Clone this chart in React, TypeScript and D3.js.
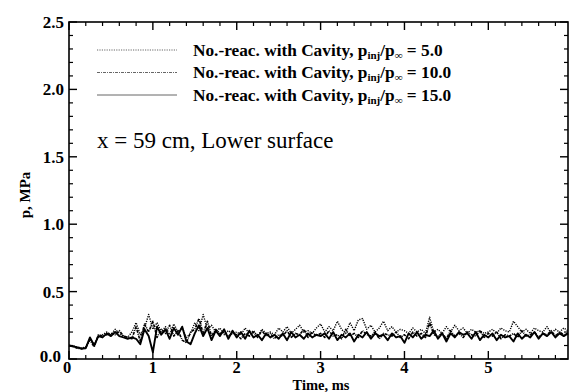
import { scaleLinear, line, range } from "d3";

const STEP = 0.05;

const p5: number[] = [
  0.10, 0.095, 0.09, 0.08, 0.09, 0.15, 0.11, 0.16, 0.18, 0.20, 0.18, 0.22, 0.19, 0.17, 0.16, 0.20, 0.27, 0.18, 0.23, 0.33,
  0.22, 0.27, 0.20, 0.24, 0.18, 0.26, 0.20, 0.23, 0.16, 0.19, 0.27, 0.21, 0.33, 0.22, 0.25, 0.20, 0.23, 0.18, 0.21, 0.19,
  0.20, 0.18, 0.23, 0.19, 0.21, 0.17, 0.22, 0.19, 0.20, 0.18, 0.23, 0.20, 0.24, 0.19, 0.22, 0.25, 0.20, 0.21, 0.19, 0.23,
  0.26, 0.20, 0.24, 0.21, 0.28, 0.22, 0.19, 0.27, 0.21, 0.29, 0.30, 0.22, 0.25, 0.20, 0.23, 0.28, 0.21, 0.24, 0.20, 0.22,
  0.21, 0.19, 0.23, 0.20, 0.22, 0.19, 0.31, 0.20, 0.22, 0.19, 0.24, 0.20, 0.25, 0.21, 0.23, 0.19, 0.22, 0.20, 0.21, 0.19,
  0.20, 0.22, 0.19, 0.23, 0.21, 0.20, 0.28, 0.24, 0.20, 0.22, 0.19, 0.23, 0.21, 0.20, 0.24, 0.19, 0.22, 0.20, 0.23, 0.21,
];

const p10: number[] = [
  0.10, 0.09, 0.08, 0.075, 0.085, 0.14, 0.09, 0.18, 0.17, 0.18, 0.19, 0.18, 0.21, 0.17, 0.16, 0.15, 0.24, 0.13, 0.26, 0.20,
  0.28, 0.16, 0.22, 0.19, 0.25, 0.17, 0.21, 0.14, 0.12, 0.20, 0.22, 0.30, 0.19, 0.28, 0.17, 0.22, 0.19, 0.20, 0.17, 0.19,
  0.18, 0.15, 0.19, 0.17, 0.20, 0.16, 0.21, 0.17, 0.19, 0.15, 0.18, 0.17, 0.21, 0.16, 0.19, 0.18, 0.22, 0.16, 0.20, 0.17,
  0.19, 0.16, 0.21, 0.17, 0.18, 0.15, 0.22, 0.17, 0.19, 0.16, 0.21, 0.18, 0.17, 0.20, 0.15, 0.19, 0.18, 0.17, 0.20, 0.16,
  0.18, 0.15, 0.20, 0.17, 0.19, 0.16, 0.27, 0.18, 0.17, 0.19, 0.15, 0.21, 0.17, 0.19, 0.16, 0.20, 0.18, 0.17, 0.21, 0.16,
  0.19, 0.17, 0.20, 0.15, 0.18, 0.17, 0.19, 0.16, 0.21, 0.17, 0.18, 0.20, 0.16, 0.19, 0.18, 0.21, 0.17, 0.20, 0.18, 0.19,
];

const p15: number[] = [
  0.10, 0.095, 0.085, 0.078, 0.08, 0.16, 0.10, 0.17, 0.16, 0.19, 0.17, 0.20, 0.17, 0.16, 0.15, 0.16, 0.15, 0.11, 0.22, 0.17,
  0.05, 0.24, 0.18, 0.22, 0.15, 0.23, 0.18, 0.24, 0.13, 0.11, 0.19, 0.25, 0.17, 0.23, 0.14, 0.21, 0.17, 0.22, 0.15, 0.21,
  0.16, 0.20, 0.15, 0.21, 0.16, 0.18, 0.14, 0.19, 0.16, 0.18, 0.15, 0.19, 0.14, 0.20, 0.16, 0.18, 0.15, 0.19, 0.16, 0.18,
  0.17, 0.19, 0.15, 0.20, 0.14, 0.18, 0.16, 0.19, 0.13, 0.18, 0.16, 0.20, 0.15, 0.19, 0.17, 0.18, 0.14, 0.19, 0.16, 0.17,
  0.12, 0.19, 0.16, 0.20, 0.15, 0.18, 0.17, 0.21, 0.15, 0.19, 0.13, 0.19, 0.16, 0.20, 0.18, 0.19, 0.15, 0.20, 0.14, 0.18,
  0.16, 0.19, 0.14, 0.18, 0.16, 0.17, 0.13, 0.19, 0.15, 0.18, 0.16, 0.20, 0.15, 0.19, 0.17, 0.20, 0.16, 0.19, 0.17, 0.19,
];

const ratios = ["5.0", "10.0", "15.0"];
const xTicks = [0, 1, 2, 3, 4, 5];
const yTicks = [0, 0.5, 1, 1.5, 2, 2.5];

const series = [
  { ratio: ratios[0], values: p5, dash: "1.2,1.2", width: 1.4 },
  { ratio: ratios[1], values: p10, dash: "3,1,1,1", width: 1.6 },
  { ratio: ratios[2], values: p15, dash: undefined, width: 1.9 },
];

const serif = "'Liberation Serif', 'Times New Roman', serif";

export default function App() {
  const width = 569;
  const height = 392;
  const margin = { top: 22, right: 1, bottom: 33, left: 69 };

  const x = scaleLinear().domain([0, 5.95]).range([margin.left, width - margin.right]);
  const y = scaleLinear().domain([0, 2.5]).range([height - margin.bottom, margin.top]);

  const path = line<number>()
    .x((_, i) => x(i * STEP))
    .y((d) => y(d));

  const x0 = x.range()[0];
  const x1 = x.range()[1];
  const y0 = y.range()[0];
  const y1 = y.range()[1];

  const xMinor = range(0, 59).map((i) => i * 0.2).filter((t) => t <= 5.95 && Math.abs(t - Math.round(t)) > 1e-6);
  const yMinor = range(0, 26).map((i) => i * 0.1).filter((v) => Math.abs(v * 2 - Math.round(v * 2)) > 1e-6);

  return (
    <svg
      width={width}
      height={height}
      viewBox={`0 0 ${width} ${height}`}
      style={{ position: "absolute", left: 0, top: 0, background: "#fff" }}
    >
      {series.map((s) => (
        <path
          key={s.ratio}
          d={path(s.values) ?? ""}
          fill="none"
          stroke="#000"
          strokeWidth={s.width}
          strokeDasharray={s.dash}
          strokeLinejoin="round"
        />
      ))}

      <rect x={x0} y={y1} width={x1 - x0} height={y0 - y1} fill="none" stroke="#000" strokeWidth={1.6} />

      {xTicks.map((t) => (
        <g key={`xt${t}`}>
          <line x1={x(t)} x2={x(t)} y1={y0} y2={y0 - 8} stroke="#000" strokeWidth={1.4} />
          <line x1={x(t)} x2={x(t)} y1={y1} y2={y1 + 8} stroke="#000" strokeWidth={1.4} />
          <text
            x={x(t) + (t === 0 ? -2 : 0)}
            y={y0 + 13.5}
            textAnchor="middle"
            fontFamily={serif}
            fontWeight="bold"
            fontSize={16.5}
          >
            {t}
          </text>
        </g>
      ))}
      {xMinor.map((t) => (
        <g key={`xm${t.toFixed(1)}`}>
          <line x1={x(t)} x2={x(t)} y1={y0} y2={y0 - 4} stroke="#000" strokeWidth={1.2} />
          <line x1={x(t)} x2={x(t)} y1={y1} y2={y1 + 4} stroke="#000" strokeWidth={1.2} />
        </g>
      ))}

      {yTicks.map((v) => (
        <g key={`yt${v}`}>
          <line x1={x0} x2={x0 + 8} y1={y(v)} y2={y(v)} stroke="#000" strokeWidth={1.4} />
          <line x1={x1} x2={x1 - 8} y1={y(v)} y2={y(v)} stroke="#000" strokeWidth={1.4} />
          <text
            x={x0 - (v === 0 ? 8 : 5)}
            y={y(v) + (v === 0 ? 3 : 6)}
            textAnchor="end"
            fontFamily={serif}
            fontWeight="bold"
            fontSize={17}
          >
            {v.toFixed(1)}
          </text>
        </g>
      ))}
      {yMinor.map((v) => (
        <g key={`ym${v.toFixed(1)}`}>
          <line x1={x0} x2={x0 + 4} y1={y(v)} y2={y(v)} stroke="#000" strokeWidth={1.2} />
          <line x1={x1} x2={x1 - 4} y1={y(v)} y2={y(v)} stroke="#000" strokeWidth={1.2} />
        </g>
      ))}

      <text
        x={321}
        y={389.5}
        textAnchor="middle"
        fontFamily={serif}
        fontWeight="bold"
        fontSize={14.5}
      >
        Time, ms
      </text>
      <text
        transform="translate(30,195) rotate(-90)"
        textAnchor="middle"
        fontFamily={serif}
        fontWeight="bold"
        fontSize={15}
      >
        p, MPa
      </text>

      {series.map((s, i) => {
        const ly = 50 + i * 22.5;
        return (
          <g key={`lg${s.ratio}`}>
            <line x1={97} x2={177} y1={ly} y2={ly} stroke="#666" strokeWidth={1} strokeDasharray={s.dash} />
            <text x={193} y={ly + 5.5} fontFamily={serif} fontWeight="bold" fontSize={17.3}>
              No.-reac. with Cavity, p
              <tspan fontSize={11} dy={3}>inj</tspan>
              <tspan dy={-3}>/p</tspan>
              <tspan fontSize={11} dy={3}>∞</tspan>
              <tspan dy={-3}> = {s.ratio}</tspan>
            </text>
          </g>
        );
      })}

      <text x={97} y={148} fontFamily={serif} fontSize={23}>
        x = 59 cm, Lower surface
      </text>
    </svg>
  );
}
